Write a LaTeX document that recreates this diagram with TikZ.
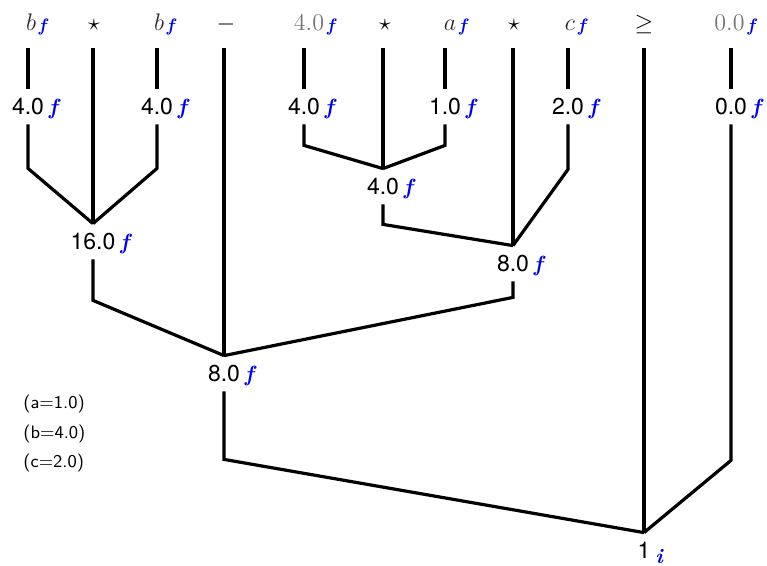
\documentclass[tikz,border=0pt]{standalone}
\usepackage{amsmath,amssymb}
\usepackage{fontspec}
\usepackage{tikz}
\newfontfamily\valfont{TeX Gyre Heros}

\definecolor{fblue}{RGB}{0,0,245}
\definecolor{vargray}{gray}{0.15}
\definecolor{numgray}{gray}{0.45}

% bold italic subscript letters
\newcommand{\bsym}[2]{\textcolor{fblue}{\fontsize{#1}{#1}\selectfont\rmfamily\bfseries\itshape #2}}
\newcommand{\topf}{\rlap{\hspace{1.5pt}\raisebox{-0.5pt}{\bsym{9}{f}}}}
\newcommand{\valf}{\rlap{\hspace{2.5pt}\bsym{11}{f}}}
\newcommand{\rooti}{\rlap{\hspace{2.5pt}\raisebox{-2.5pt}{\bsym{10.5}{i}}}}

\tikzset{
  edge/.style={line width=1.6pt},
  toplbl/.style={anchor=base, text depth=0pt, inner ysep=8.5pt, inner xsep=0pt,
    font=\fontsize{12.5}{14}\selectfont},
  vallbl/.style={text height=8.5pt, text depth=0pt, inner ysep=4.5pt, inner xsep=0pt,
    font=\valfont\fontsize{11.5}{14}\selectfont},
  keylbl/.style={anchor=west, inner sep=0pt, font=\sffamily\fontsize{9}{11}\selectfont}
}

\begin{document}
\begin{tikzpicture}[x=0.5pt,y=-0.5pt]
    \useasboundingbox (0,0) rectangle (767,566);

    % top row
    \node[toplbl] (t1) at (31,31) {$\textcolor{vargray}{b}$\topf};
    \node[toplbl] (t2) at (94,31) {$\star$};
    \node[toplbl] (t3) at (159,31) {$\textcolor{vargray}{b}$\topf};
    \node[toplbl] (t4) at (226,31) {$-$};
    \node[toplbl] (t5) at (309,31) {$\textcolor{numgray}{4.0}$\topf};
    \node[toplbl] (t6) at (385,31) {$\star$};
    \node[toplbl] (t7) at (450,31) {$\textcolor{vargray}{a}$\topf};
    \node[toplbl] (t8) at (514,31) {$\star$};
    \node[toplbl] (t9) at (570,31) {$\textcolor{vargray}{c}$\topf};
    \node[toplbl] (t10) at (644,31) {$\geq$};
    \node[toplbl] (t11) at (729.5,31) {$\textcolor{numgray}{0.0}$\topf};

    % leaf values
    \node[vallbl] (v1) at (28,106.5) {4.0\valf};
    \node[vallbl] (v3) at (157,106.5) {4.0\valf};
    \node[vallbl] (v5) at (304,106.5) {4.0\valf};
    \node[vallbl] (v7) at (445,106.5) {1.0\valf};
    \node[vallbl] (v9) at (568,106.5) {2.0\valf};
    \node[vallbl] (v11) at (731,106.5) {0.0\valf};

    % inner values
    \node[vallbl] (n16) at (93,241.5) {16.0\valf};
    \node[vallbl] (n4) at (383,186.5) {4.0\valf};
    \node[vallbl] (n8r) at (513,263.5) {8.0\valf};
    \node[vallbl] (n8b) at (224,373.5) {8.0\valf};
    \node[vallbl] (root) at (644,550.5) {1\rooti};

    % bindings
    \node[keylbl] (k1) at (23,404) {(a=1.0)};
    \node[keylbl] (k2) at (23,434) {(b=4.0)};
    \node[keylbl] (k3) at (23,463) {(c=2.0)};

    \draw[edge] (t1.south -| v1) -- (v1.north);
    \draw[edge] (t3.south -| v3) -- (v3.north);
    \draw[edge] (t5.south -| v5) -- (v5.north);
    \draw[edge] (t7.south -| v7) -- (v7.north);
    \draw[edge] (t9.south -| v9) -- (v9.north);
    \draw[edge] (t11.south -| v11) -- (v11.north);

    \draw[edge] (v1.south) -- ++(0,44) -- (n16.north);
    \draw[edge] (v3.south) -- ++(0,44) -- (n16.north);
    \draw[edge] (t2.south -| n16) -- (n16.north);

    \draw[edge] (v5.south) -- ++(0,21) -- (n4.north);
    \draw[edge] (v7.south) -- ++(0,21) -- (n4.north);
    \draw[edge] (t6.south -| n4) -- (n4.north);

    \draw[edge] (n4.south) -- ++(0,20) -- (n8r.north);
    \draw[edge] (v9.south) -- ++(0,45) -- (n8r.north);
    \draw[edge] (t8.south -| n8r) -- (n8r.north);

    \draw[edge] (n16.south) -- ++(0,41) -- (n8b.north);
    \draw[edge] (n8r.south) -- ++(0,16) -- (n8b.north);
    \draw[edge] (t4.south -| n8b) -- (n8b.north);

    \draw[edge] (n8b.south) -- ++(0,68) -- (root.north);
    \draw[edge] (v11.south) -- ++(0,336) -- (root.north);
    \draw[edge] (t10.south -| root) -- (root.north);
\end{tikzpicture}
\end{document}
